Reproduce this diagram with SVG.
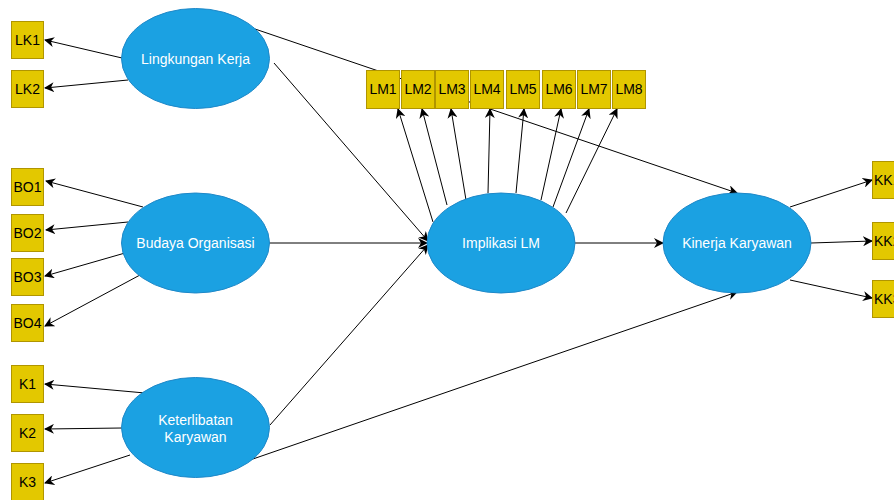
<svg xmlns="http://www.w3.org/2000/svg" width="894" height="500" viewBox="0 0 894 500">
<defs>
<marker id="arr" viewBox="0 0 10 10" refX="9" refY="5" markerWidth="10" markerHeight="10" markerUnits="userSpaceOnUse" orient="auto">
<path d="M0,0 L10,5 L0,10 L3,5 Z" fill="#000"/>
</marker>
</defs>
<style>
.ell{fill:#1BA1E2;stroke:#1E88C8;stroke-width:1}
.box{fill:#E3C800;stroke:#B09500;stroke-width:1}
.et{font-family:"Liberation Sans",Arial,sans-serif;font-size:14px;fill:#fff;text-anchor:middle}
.bt{font-family:"Liberation Sans",Arial,sans-serif;font-size:14px;fill:#000;text-anchor:middle}
.kt{font-family:"Liberation Sans",Arial,sans-serif;font-size:14px;fill:#000}
.c line{stroke:#000;stroke-width:1;fill:none}
.a{marker-end:url(#arr)}
</style>
<rect width="894" height="500" fill="#fff"/>
<g id="connectors" class="c">
<line x1="122" y1="58" x2="45" y2="40" class="a"/>
<line x1="128" y1="80" x2="45" y2="88" class="a"/>
<line x1="255" y1="29" x2="737" y2="193" class="a"/>
<line x1="274" y1="63" x2="428" y2="241" class="a"/>
<line x1="143" y1="207" x2="46" y2="181" class="a"/>
<line x1="128" y1="222" x2="46" y2="230" class="a"/>
<line x1="125" y1="253" x2="45" y2="276" class="a"/>
<line x1="140" y1="275" x2="45" y2="326" class="a"/>
<line x1="269" y1="243" x2="427" y2="243" class="a"/>
<line x1="145" y1="393" x2="45" y2="384" class="a"/>
<line x1="122" y1="428" x2="45" y2="429" class="a"/>
<line x1="130" y1="455" x2="45" y2="483" class="a"/>
<line x1="270" y1="425" x2="428" y2="245" class="a"/>
<line x1="250" y1="460" x2="737" y2="292" class="a"/>
<line x1="575" y1="243" x2="663" y2="243" class="a"/>
<line x1="433" y1="222" x2="398" y2="109" class="a"/>
<line x1="447" y1="205" x2="422" y2="109" class="a"/>
<line x1="466" y1="200" x2="451" y2="109" class="a"/>
<line x1="488" y1="193" x2="490" y2="109" class="a"/>
<line x1="516" y1="193" x2="524" y2="109" class="a"/>
<line x1="541" y1="200" x2="561" y2="109" class="a"/>
<line x1="553" y1="207" x2="589" y2="109" class="a"/>
<line x1="566" y1="213" x2="617" y2="109" class="a"/>
<line x1="790" y1="207" x2="872" y2="180" class="a"/>
<line x1="811" y1="243" x2="872" y2="241" class="a"/>
<line x1="790" y1="280" x2="872" y2="298" class="a"/>
</g>
<g id="LK1"><rect class="box" x="11.5" y="21.5" width="32" height="37"/><text class="bt" x="27.5" y="45">LK1</text></g>
<g id="LK2"><rect class="box" x="11.5" y="70.5" width="32" height="37"/><text class="bt" x="27.5" y="94">LK2</text></g>
<g id="BO1"><rect class="box" x="11.5" y="168.5" width="32" height="37"/><text class="bt" x="27.5" y="192">BO1</text></g>
<g id="BO2"><rect class="box" x="11.5" y="214.5" width="32" height="37"/><text class="bt" x="27.5" y="238">BO2</text></g>
<g id="BO3"><rect class="box" x="11.5" y="258.5" width="32" height="37"/><text class="bt" x="27.5" y="282">BO3</text></g>
<g id="BO4"><rect class="box" x="11.5" y="304.5" width="32" height="37"/><text class="bt" x="27.5" y="328">BO4</text></g>
<g id="K1"><rect class="box" x="11.5" y="365.5" width="32" height="37"/><text class="bt" x="27.5" y="389">K1</text></g>
<g id="K2"><rect class="box" x="11.5" y="414.5" width="32" height="37"/><text class="bt" x="27.5" y="438">K2</text></g>
<g id="K3"><rect class="box" x="11.5" y="463.5" width="32" height="37"/><text class="bt" x="27.5" y="487">K3</text></g>
<g id="LM1"><rect class="box" x="366.5" y="70.5" width="33" height="38"/><text class="bt" x="383" y="94">LM1</text></g>
<g id="LM2"><rect class="box" x="401.5" y="70.5" width="33" height="38"/><text class="bt" x="418" y="94">LM2</text></g>
<g id="LM3"><rect class="box" x="435.5" y="70.5" width="33" height="38"/><text class="bt" x="452" y="94">LM3</text></g>
<g id="LM4"><rect class="box" x="470.5" y="70.5" width="33" height="38"/><text class="bt" x="487" y="94">LM4</text></g>
<g id="LM5"><rect class="box" x="506.5" y="70.5" width="33" height="38"/><text class="bt" x="523" y="94">LM5</text></g>
<g id="LM6"><rect class="box" x="542.5" y="70.5" width="33" height="38"/><text class="bt" x="559" y="94">LM6</text></g>
<g id="LM7"><rect class="box" x="577.5" y="70.5" width="33" height="38"/><text class="bt" x="594" y="94">LM7</text></g>
<g id="LM8"><rect class="box" x="612.5" y="70.5" width="33" height="38"/><text class="bt" x="629" y="94">LM8</text></g>
<g id="KK1"><rect class="box" x="872.5" y="161.5" width="33" height="37"/><text class="kt" x="874" y="185">KK1</text></g>
<g id="KK2"><rect class="box" x="872.5" y="222.5" width="33" height="37"/><text class="kt" x="874" y="246">KK2</text></g>
<g id="KK3"><rect class="box" x="872.5" y="280.5" width="33" height="37"/><text class="kt" x="874" y="304">KK3</text></g>
<g id="LingkunganKerja"><ellipse class="ell" cx="195.5" cy="58.5" rx="74" ry="50"/><text class="et" x="195.5" y="63.5">Lingkungan Kerja</text></g>
<g id="BudayaOrganisasi"><ellipse class="ell" cx="195.5" cy="243" rx="74" ry="50"/><text class="et" x="195.5" y="248">Budaya Organisasi</text></g>
<g id="KeterlibatanKaryawan"><ellipse class="ell" cx="195.5" cy="427.5" rx="74" ry="50"/><text class="et" x="195.5" y="425">Keterlibatan</text><text class="et" x="195.5" y="442">Karyawan</text></g>
<g id="ImplikasiLM"><ellipse class="ell" cx="501" cy="243" rx="74" ry="50"/><text class="et" x="501" y="248">Implikasi LM</text></g>
<g id="KinerjaKaryawan"><ellipse class="ell" cx="737" cy="243" rx="74" ry="50"/><text class="et" x="737" y="248">Kinerja Karyawan</text></g>
</svg>
